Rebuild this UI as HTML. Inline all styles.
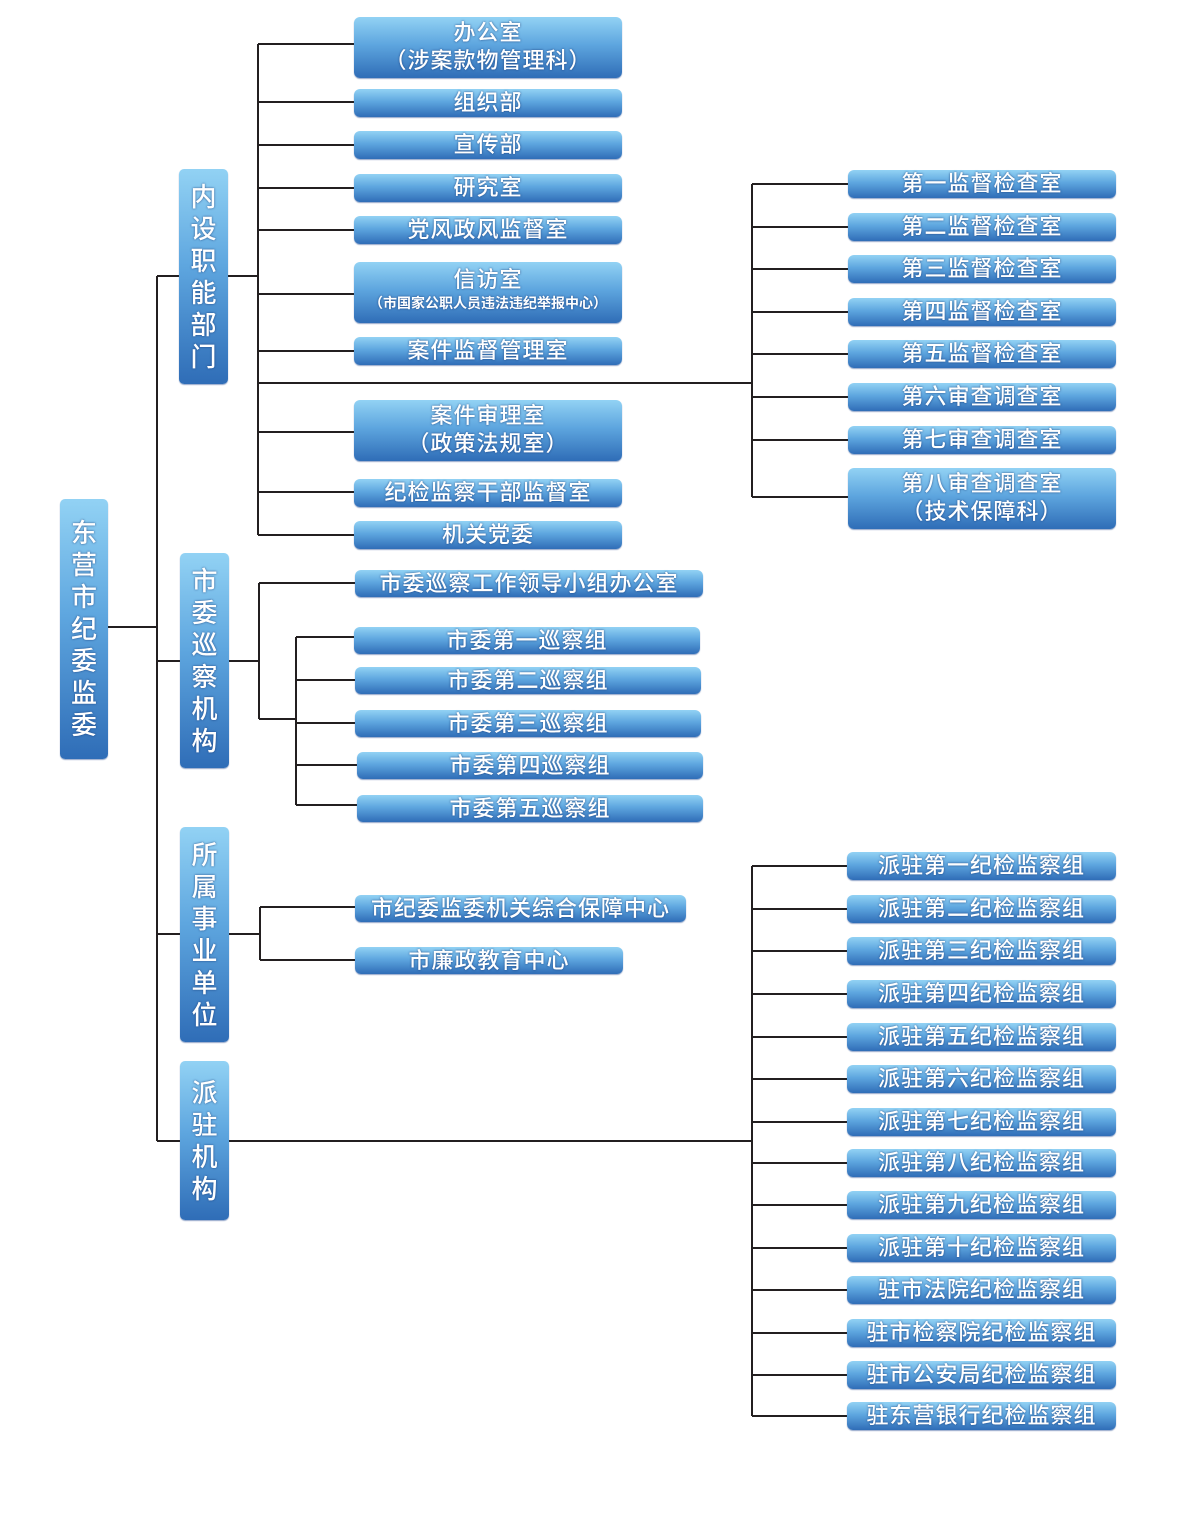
<!DOCTYPE html>
<html><head><meta charset="utf-8"><style>
body{margin:0;background:#fff;}
#c{position:relative;width:1200px;height:1534px;overflow:hidden;font-family:"Liberation Sans","Noto Sans CJK SC",sans-serif;}
.b{position:absolute;box-sizing:border-box;border-radius:6px;background:linear-gradient(#92d2f4 0%,#5ea6df 45%,#2f6db7 100%);color:#fff;text-align:center;font-size:22px;line-height:28px;letter-spacing:1px;font-weight:500;text-shadow:0 0 2px rgba(20,50,110,.8);box-shadow:0 1px 1px rgba(40,80,150,.5);white-space:nowrap;}
.v{font-size:26px;line-height:32px;display:flex;flex-direction:column;align-items:center;justify-content:center;border-radius:5px;letter-spacing:0;}
svg{position:absolute;left:0;top:0;}
</style></head><body><div id="c">
<svg width="1200" height="1534"><g stroke="#231f20" stroke-width="2" fill="none">
<path d="M108 627H157M157 276V1141M157 276H179M157 661H180M157 934H180M157 1141H180"/>
<path d="M228 276H258M258 44V535M258 44H354M258 102H354M258 145H354M258 188H354M258 230H354M258 294H354M258 351H354M258 383H752M258 432H354M258 492H354M258 535H354"/>
<path d="M752 184V497M752 184H848M752 227H848M752 269H848M752 312H848M752 354H848M752 397H848M752 440H848M752 497H848"/>
<path d="M229 661H259M259 583V719M259 583H355M259 719H296M296 637V805M296 637H355M296 680H355M296 723H355M296 765H357M296 805H357"/>
<path d="M229 934H260M260 907V960M260 907H355M260 960H355"/>
<path d="M229 1141H752M752 866V1416M752 866H848M752 909H848M752 951H848M752 994H848M752 1037H848M752 1079H848M752 1122H848M752 1163H848M752 1205H848M752 1248H848M752 1290H848M752 1333H848M752 1375H848M752 1416H848"/>
</g></svg>
<div class="b v" style="left:60px;top:499px;width:48px;height:260px"><span>东</span><span>营</span><span>市</span><span>纪</span><span>委</span><span>监</span><span>委</span></div>
<div class="b v" style="left:179px;top:169px;width:49px;height:215px"><span>内</span><span>设</span><span>职</span><span>能</span><span>部</span><span>门</span></div>
<div class="b v" style="left:180px;top:553px;width:49px;height:215px"><span>市</span><span>委</span><span>巡</span><span>察</span><span>机</span><span>构</span></div>
<div class="b v" style="left:180px;top:827px;width:49px;height:215px"><span>所</span><span>属</span><span>事</span><span>业</span><span>单</span><span>位</span></div>
<div class="b v" style="left:180px;top:1061px;width:49px;height:159px"><span>派</span><span>驻</span><span>机</span><span>构</span></div>

<div class="b" style="left:354px;top:17px;width:268px;height:61px;padding-top:2px">办公室<br>（涉案款物管理科）</div>
<div class="b" style="left:354px;top:89px;width:268px;height:28px">组织部</div>
<div class="b" style="left:354px;top:131px;width:268px;height:28px">宣传部</div>
<div class="b" style="left:354px;top:174px;width:268px;height:28px">研究室</div>
<div class="b" style="left:354px;top:216px;width:268px;height:28px">党风政风监督室</div>
<div class="b" style="left:354px;top:262px;width:268px;height:61px;padding-top:4px">信访室<br><span style="font-size:14px;line-height:18px;display:block;letter-spacing:0;font-weight:bold">（市国家公职人员违法违纪举报中心）</span></div>
<div class="b" style="left:354px;top:337px;width:268px;height:28px">案件监督管理室</div>
<div class="b" style="left:354px;top:400px;width:268px;height:61px;padding-top:2px">案件审理室<br>（政策法规室）</div>
<div class="b" style="left:354px;top:479px;width:268px;height:28px">纪检监察干部监督室</div>
<div class="b" style="left:354px;top:521px;width:268px;height:28px">机关党委</div>

<div class="b" style="left:848px;top:170px;width:268px;height:28px">第一监督检查室</div>
<div class="b" style="left:848px;top:213px;width:268px;height:28px">第二监督检查室</div>
<div class="b" style="left:848px;top:255px;width:268px;height:28px">第三监督检查室</div>
<div class="b" style="left:848px;top:298px;width:268px;height:28px">第四监督检查室</div>
<div class="b" style="left:848px;top:340px;width:268px;height:28px">第五监督检查室</div>
<div class="b" style="left:848px;top:383px;width:268px;height:28px">第六审查调查室</div>
<div class="b" style="left:848px;top:426px;width:268px;height:28px">第七审查调查室</div>
<div class="b" style="left:848px;top:468px;width:268px;height:61px;padding-top:2px">第八审查调查室<br>（技术保障科）</div>

<div class="b" style="left:355px;top:570px;width:348px;height:27px">市委巡察工作领导小组办公室</div>
<div class="b" style="left:354px;top:627px;width:346px;height:27px">市委第一巡察组</div>
<div class="b" style="left:355px;top:667px;width:346px;height:27px">市委第二巡察组</div>
<div class="b" style="left:355px;top:710px;width:346px;height:27px">市委第三巡察组</div>
<div class="b" style="left:357px;top:752px;width:346px;height:27px">市委第四巡察组</div>
<div class="b" style="left:357px;top:795px;width:346px;height:27px">市委第五巡察组</div>

<div class="b" style="left:355px;top:895px;width:331px;height:27px">市纪委监委机关综合保障中心</div>
<div class="b" style="left:355px;top:947px;width:268px;height:27px">市廉政教育中心</div>

<div class="b" style="left:847px;top:852px;width:269px;height:28px">派驻第一纪检监察组</div>
<div class="b" style="left:847px;top:895px;width:269px;height:28px">派驻第二纪检监察组</div>
<div class="b" style="left:847px;top:937px;width:269px;height:28px">派驻第三纪检监察组</div>
<div class="b" style="left:847px;top:980px;width:269px;height:28px">派驻第四纪检监察组</div>
<div class="b" style="left:847px;top:1023px;width:269px;height:28px">派驻第五纪检监察组</div>
<div class="b" style="left:847px;top:1065px;width:269px;height:28px">派驻第六纪检监察组</div>
<div class="b" style="left:847px;top:1108px;width:269px;height:28px">派驻第七纪检监察组</div>
<div class="b" style="left:847px;top:1149px;width:269px;height:28px">派驻第八纪检监察组</div>
<div class="b" style="left:847px;top:1191px;width:269px;height:28px">派驻第九纪检监察组</div>
<div class="b" style="left:847px;top:1234px;width:269px;height:28px">派驻第十纪检监察组</div>
<div class="b" style="left:847px;top:1276px;width:269px;height:28px">驻市法院纪检监察组</div>
<div class="b" style="left:847px;top:1319px;width:269px;height:28px">驻市检察院纪检监察组</div>
<div class="b" style="left:847px;top:1361px;width:269px;height:28px">驻市公安局纪检监察组</div>
<div class="b" style="left:847px;top:1402px;width:269px;height:28px">驻东营银行纪检监察组</div>
</div></body></html>
